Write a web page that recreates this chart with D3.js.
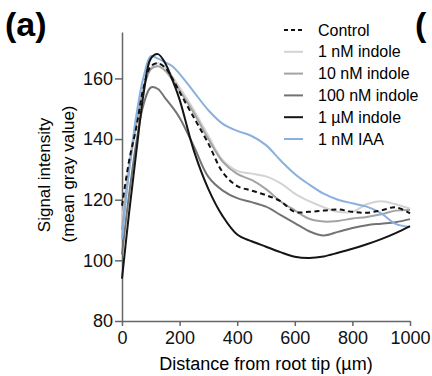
<html>
<head>
	<meta charset="utf-8">
	<title>Signal intensity</title>
	<script src="https://d3js.org/d3.v7.min.js"></script>
	<style>
	body { margin: 0; background: #fff; }
	svg { font-family: Arial, "Liberation Sans", sans-serif; }
	.axis path, .axis line { stroke: #666; stroke-width: 1.5; }
	.axis text { font-size: 18px; fill: #111; }
	.line { fill: none; stroke-width: 2; }
	</style>
</head>
<body>
	<div id="chart"></div>

	<script>
		// distance from root tip (um)
		var distance = [0, 25, 50, 75, 100, 125, 150, 175, 200, 250, 300, 350, 400,
		                450, 500, 550, 600, 650, 700, 750, 800, 850, 900, 950, 1000];

		var control = [118, 133, 144, 157, 164, 165, 163.5, 160, 155.5, 147, 138.5, 129, 124.5,
		               123, 121.5, 119.5, 116, 116, 116.4, 116.8, 116, 115.7, 116.5, 117.5, 115.5];
		var indole1nM = [113, 132, 146, 157, 163.5, 165, 163.5, 160.5, 157, 149.5, 141, 133, 129.5,
		                 128.6, 127.7, 125.5, 122, 119.5, 117.5, 116, 116, 118.5, 119.5, 118.5, 117];
		var indole10nM = [110, 130, 145, 156.5, 163, 164, 162.5, 159.5, 156, 148.5, 140, 132.5, 128.5,
		                  126.5, 123.5, 119.5, 116.5, 113.7, 112.8, 113, 113.8, 114.3, 115.2, 116.4, 116.6];
		var indole100nM = [102, 122, 139, 151.5, 157, 156.5, 153.5, 150.5, 147, 137.5, 127.5, 123, 120.5,
		                   119.2, 117.7, 115, 112.3, 109.6, 108.2, 109.4, 110.7, 111.6, 112.1, 112.6, 113.6];
		var indole1uM = [94, 116, 136, 155, 166.5, 168, 165, 159.5, 153, 136, 123.5, 114.5, 108.5,
		                 106.3, 104.5, 102.7, 101.2, 100.8, 101.3, 102.5, 103.8, 105.3, 107, 109, 111.3];
		var iaa1nM = [107, 130, 148, 160.5, 167.3, 166.5, 165.3, 164, 161.5, 155.5, 149.5, 145, 142.7,
		              141, 138, 133, 128.5, 125, 122, 120, 118.8, 117.7, 115.5, 112, 111];

		var seriesNames = ["Control", "1 nM indole", "10 nM indole", "100 nM indole", "1 \u00b5M indole", "1 nM IAA"];
		var seriesValues = [control, indole1nM, indole10nM, indole100nM, indole1uM, iaa1nM];
		var seriesColors = ["#111", "#d3d3d3", "#a3a3a3", "#737373", "#151515", "#8ab0de"];

		var xTicks = [0, 200, 400, 600, 800, 1000];
		var yTicks = [80, 100, 120, 140, 160];

		var svg = d3.select("#chart")
			.append("svg")
			.attr("width", 432)
			.attr("height", 376);

		var x = d3.scaleLinear().domain([0, 1000]).range([122, 410]),
		    y = d3.scaleLinear().domain([80, 175.3]).range([321, 32]);

		// axes
		svg.append("g")
		    .attr("class", "axis")
		    .attr("transform", "translate(0,321)")
		    .call(d3.axisBottom(x).tickValues(xTicks).tickFormat(d3.format("d"))
		      .tickSize(5).tickPadding(5).tickSizeOuter(0));

		svg.append("g")
		    .attr("class", "axis")
		    .attr("transform", "translate(122,0)")
		    .call(d3.axisLeft(y).tickValues(yTicks).tickSize(7).tickPadding(2).tickSizeOuter(0));

		// lines
		var line = d3.line()
		    .x(function(d, i) { return x(distance[i]); })
		    .y(function(d) { return y(d); })
		    .curve(d3.curveCatmullRom);

		// draw light ones first so dark ones sit on top
		var order = [1, 2, 3, 5, 4, 0];
		order.forEach(function(k) {
		  svg.append("path")
		      .attr("class", "line")
		      .attr("d", line(seriesValues[k]))
		      .attr("stroke", seriesColors[k])
		      .attr("stroke-dasharray", k === 0 ? "5,3.5" : null);
		});

		// legend
		var legend = svg.append("g");
		seriesNames.forEach(function(name, i) {
		  var ly = 30 + i * 21.8;
		  legend.append("line")
		      .attr("x1", 284).attr("x2", 303)
		      .attr("y1", ly).attr("y2", ly)
		      .attr("stroke", seriesColors[i])
		      .attr("stroke-width", 2)
		      .attr("stroke-dasharray", i === 0 ? "4,3" : null);
		  legend.append("text")
		      .attr("x", 318)
		      .attr("y", ly)
		      .attr("dy", "0.35em")
		      .style("font-size", "16px")
		      .text(name);
		});

		// axis titles
		svg.append("text")
		    .attr("x", 266).attr("y", 370)
		    .attr("text-anchor", "middle")
		    .style("font-size", "18px")
		    .text("Distance from root tip (\u00b5m)");

		svg.append("text")
		    .attr("transform", "translate(50,175) rotate(-90)")
		    .attr("text-anchor", "middle")
		    .style("font-size", "17px")
		    .text("Signal intensity");
		svg.append("text")
		    .attr("transform", "translate(74,174) rotate(-90)")
		    .attr("text-anchor", "middle")
		    .style("font-size", "17px")
		    .text("(mean gray value)");

		// panel labels
		svg.append("text")
		    .attr("x", 5).attr("y", 36)
		    .style("font-size", "34px").style("font-weight", "bold")
		    .text("(a)");
		svg.append("text")
		    .attr("x", 415).attr("y", 36)
		    .style("font-size", "34px").style("font-weight", "bold")
		    .text("(");
	</script>
</body>
</html>
